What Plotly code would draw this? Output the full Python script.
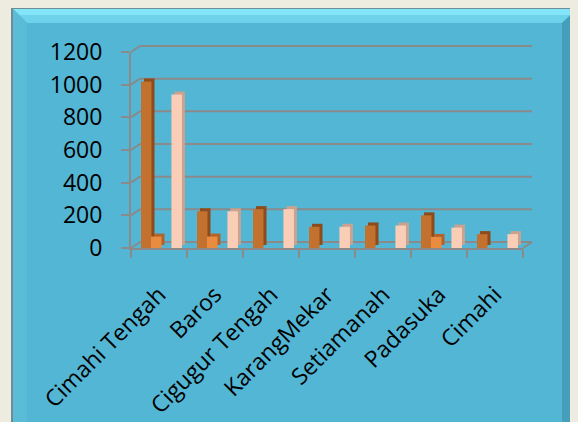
import plotly.graph_objects as go

# ---- data ----
categories = ["Cimahi Tengah", "Baros", "Cigugur Tengah", "KarangMekar",
              "Setiamanah", "Padasuka", "Cimahi"]
series_1 = [1020, 225, 238, 130, 138, 200, 85]
series_2 = [70, 70, 0, 0, 0, 68, 0]
series_3 = [940, 225, 238, 130, 138, 125, 85]
y_ticks = [0, 200, 400, 600, 800, 1000, 1200]

# ---- geometry helpers (screen pixels; page body has an 8px margin) ----
S = 8
FW, FH = 570, 414
L, R, T, B = 123, 55, 44, 174
PW, PH = FW - L - R, FH - T - B
YMAX = 1200
UNIT_PER_PX = YMAX / PH


def px(xs):
    return (xs - S - L) / PW


def py(ys):
    return (FH - B - (ys - S)) / PH


CAT_PX = PW / len(categories)
depth_x = 3 / CAT_PX          # bar side depth in category units
depth_y = 3 * UNIT_PER_PX     # bar top depth in value units
wall_dx = 9                   # back-wall offset in px
wall_dy = 6                   # back-wall offset in px

bar_w = 10.5 / CAT_PX
series = [
    (series_1, -0.321, "#C2712F", "#8C4C1B"),
    (series_2, -0.143, "#E98C3F", "#B0632A"),
    (series_3, 0.222, "#FACDB6", "#C9A390"),
]

fig = go.Figure()
for vals, off, front, side in series:
    fig.add_trace(go.Bar(x=categories, y=vals, base=depth_y,
                         offset=off + depth_x, width=bar_w,
                         marker=dict(color=side, line=dict(width=0)),
                         hoverinfo="skip", showlegend=False))
    fig.add_trace(go.Bar(x=categories, y=vals, offset=off, width=bar_w,
                         marker=dict(color=front, line=dict(width=0)),
                         showlegend=False))

shapes = []
shapes.append(dict(type="rect", xref="paper", yref="paper", layer="below",
                   x0=px(12), x1=px(590), y0=py(8), y1=py(440),
                   fillcolor="#52B6D4", line=dict(color="#6E8C94", width=2)))


def poly(pts, color):
    d = "M " + " L ".join(f"{px(a):.5f},{py(b):.5f}" for a, b in pts) + " Z"
    return dict(type="path", xref="paper", yref="paper", layer="below",
                path=d, fillcolor=color, line=dict(width=0))


shapes.append(poly([(13, 9), (577, 9), (562, 23), (27, 23)], "#6CD3EB"))
shapes.append(poly([(13, 9), (577, 9), (570, 15), (20, 15)], "#84E4F8"))
shapes.append(poly([(13, 9), (27, 23), (27, 440), (13, 440)], "#5ABCD6"))
shapes.append(poly([(577, 9), (577, 440), (562, 440), (562, 23)], "#469FBA"))
shapes.append(poly([(577, 9), (577, 440), (570, 440), (570, 16)], "#35798D"))

grid_col = "#8A8A8A"
x_left = S + L
x_right = S + L + PW
for v in y_ticks:
    yb = v / YMAX + wall_dy / PH
    shapes.append(dict(type="line", xref="paper", yref="paper", layer="below",
                       x0=px(x_left + wall_dx), x1=px(x_right + wall_dx),
                       y0=yb, y1=yb, line=dict(color=grid_col, width=2)))
    shapes.append(dict(type="line", xref="paper", yref="paper", layer="below",
                       x0=px(x_left), x1=px(x_left + wall_dx),
                       y0=v / YMAX, y1=yb, line=dict(color=grid_col, width=2)))
shapes.append(dict(type="line", xref="paper", yref="paper", layer="below",
                   x0=px(x_right), x1=px(x_right + wall_dx),
                   y0=0, y1=wall_dy / PH,
                   line=dict(color=grid_col, width=2)))

fig.update_layout(
    width=FW, height=FH,
    margin=dict(l=L, r=R, t=T, b=B, pad=0, autoexpand=False),
    paper_bgcolor="#EEEBE1",
    plot_bgcolor="rgba(0,0,0,0)",
    barmode="overlay",
    shapes=shapes,
    font=dict(family="Open Sans", color="#000000"),
    xaxis=dict(type="category", range=[-0.5, len(categories) - 0.5],
               showgrid=False, zeroline=False, showline=True,
               linecolor=grid_col, linewidth=2,
               ticks="outside", tickson="boundaries", ticklen=8,
               tickcolor=grid_col, tickwidth=2,
               tickangle=-45, tickfont=dict(size=23, family="Open Sans"),
               ticklabelstandoff=22, automargin=False, fixedrange=True),
    yaxis=dict(range=[0, YMAX], tickvals=y_ticks, showgrid=False,
               zeroline=False, showline=True, linecolor=grid_col, linewidth=2,
               ticks="outside", ticklen=8, tickcolor=grid_col, tickwidth=2,
               tickfont=dict(size=23, family="Open Sans"),
               ticklabelstandoff=14, automargin=False, fixedrange=True),
)

fig.write_html("out.html",
               post_script="document.body.style.background='#EEEBE1';")
